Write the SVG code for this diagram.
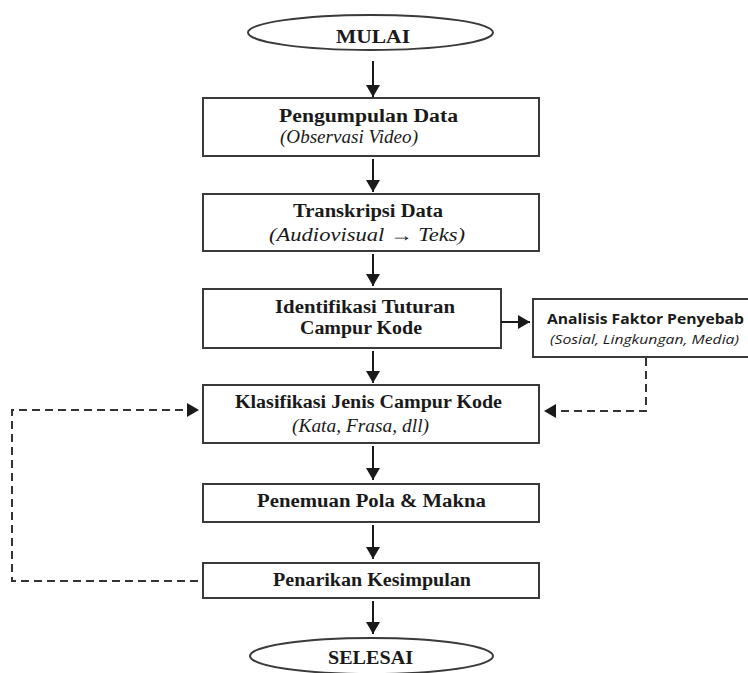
<svg xmlns="http://www.w3.org/2000/svg" width="748" height="673" viewBox="0 0 748 673">
<style>
.box{fill:#fff;stroke:#3a3a3a;stroke-width:2}
.t{font-family:"Liberation Serif","Times New Roman",serif;font-weight:bold;font-size:18px;fill:#1a1a1a}
.i{font-family:"Liberation Serif","Times New Roman",serif;font-style:italic;font-size:18px;fill:#1a1a1a}
.st{font-family:"Open Sans","Noto Sans",sans-serif;font-weight:bold;font-size:15px;fill:#1a1a1a}
.si{font-family:"Open Sans","Noto Sans",sans-serif;font-style:italic;font-size:12.5px;fill:#1a1a1a}
.c{fill:none;stroke:#1a1a1a;stroke-width:2}
.d{fill:none;stroke:#333;stroke-width:2;stroke-dasharray:8 5}
</style>
<defs>
<marker id="ah" markerUnits="userSpaceOnUse" markerWidth="14" markerHeight="14" refX="12" refY="7" orient="auto">
<path d="M0,0 L12,7 L0,14 Z" fill="#1a1a1a"/>
</marker>
</defs>
<rect width="748" height="673" fill="#fff"/>
<g id="mulai">
<ellipse cx="370.5" cy="32.5" rx="122.5" ry="17.5" class="box"/>
<text class="t" x="336" y="43" textLength="74" lengthAdjust="spacingAndGlyphs">MULAI</text>
</g>
<g id="pengumpulan">
<rect class="box" x="203" y="98" width="336" height="58"/>
<text class="t" x="279" y="122" textLength="179" lengthAdjust="spacingAndGlyphs">Pengumpulan Data</text>
<text class="i" x="280" y="143" textLength="138" lengthAdjust="spacingAndGlyphs">(Observasi Video)</text>
</g>
<g id="transkripsi">
<rect class="box" x="203" y="194" width="336" height="57"/>
<text class="t" x="293" y="217" textLength="150" lengthAdjust="spacingAndGlyphs">Transkripsi Data</text>
<text class="i" x="269" y="241" textLength="196" lengthAdjust="spacingAndGlyphs">(Audiovisual → Teks)</text>
</g>
<g id="identifikasi">
<rect class="box" x="203" y="289" width="298" height="59"/>
<text class="t" x="275" y="313" textLength="180" lengthAdjust="spacingAndGlyphs">Identifikasi Tuturan</text>
<text class="t" x="300" y="334" textLength="122" lengthAdjust="spacingAndGlyphs">Campur Kode</text>
</g>
<g id="analisis">
<rect class="box" x="533" y="299" width="230" height="58"/>
<text class="st" x="547" y="324" textLength="197" lengthAdjust="spacingAndGlyphs">Analisis Faktor Penyebab</text>
<text class="si" x="550" y="344" textLength="189" lengthAdjust="spacingAndGlyphs">(Sosial, Lingkungan, Media)</text>
</g>
<g id="klasifikasi">
<rect class="box" x="203" y="385" width="336" height="58"/>
<text class="t" x="235" y="408" textLength="267" lengthAdjust="spacingAndGlyphs">Klasifikasi Jenis Campur Kode</text>
<text class="i" x="292" y="432" textLength="137" lengthAdjust="spacingAndGlyphs">(Kata, Frasa, dll)</text>
</g>
<g id="penemuan">
<rect class="box" x="203" y="484" width="336" height="38"/>
<text class="t" x="257" y="507" textLength="229" lengthAdjust="spacingAndGlyphs">Penemuan Pola &amp; Makna</text>
</g>
<g id="penarikan">
<rect class="box" x="203" y="563" width="336" height="35"/>
<text class="t" x="273" y="586" textLength="198" lengthAdjust="spacingAndGlyphs">Penarikan Kesimpulan</text>
</g>
<g id="selesai">
<ellipse cx="371.5" cy="656" rx="121.5" ry="18" class="box"/>
<text class="t" x="328" y="664" textLength="85" lengthAdjust="spacingAndGlyphs">SELESAI</text>
</g>
<g id="connectors">
<path class="c" d="M373,61 V97" marker-end="url(#ah)"/>
<path class="c" d="M373,159 V192" marker-end="url(#ah)"/>
<path class="c" d="M373,254 V286" marker-end="url(#ah)"/>
<path class="c" d="M373,351 V383" marker-end="url(#ah)"/>
<path class="c" d="M373,446 V480" marker-end="url(#ah)"/>
<path class="c" d="M373,525 V559" marker-end="url(#ah)"/>
<path class="c" d="M373,601 V634" marker-end="url(#ah)"/>
<path class="c" d="M501,322 H530" marker-end="url(#ah)"/>
<path class="d" d="M646,358 V411 H544" marker-end="url(#ah)"/>
<path class="d" d="M198,581 H12 V410 H199" marker-end="url(#ah)"/>
</g>
</svg>
